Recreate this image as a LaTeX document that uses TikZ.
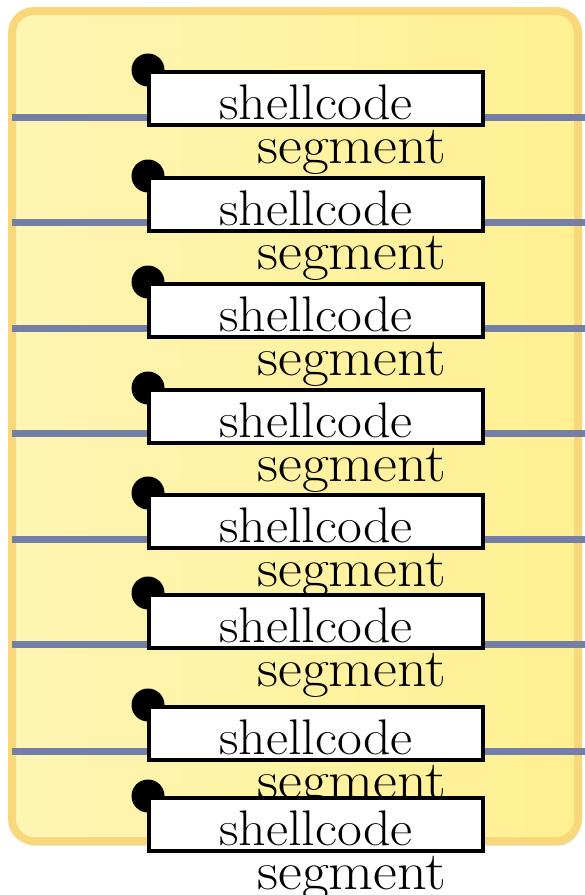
\documentclass[tikz,border=0pt]{standalone}
\usepackage{fontspec}
\setmainfont{Latin Modern Roman}[FakeStretch=1.08]
\usepackage{xcolor}
\definecolor{PadLight}{HTML}{FFF5B4}
\definecolor{PadDark}{HTML}{FFF092}
\definecolor{PadEdge}{HTML}{F9D77B}
\definecolor{WireBlue}{HTML}{737FA7}
\usepackage{tikz}
\usetikzlibrary{shadows}

\begin{document}
\begin{tikzpicture}[
        x=1pt, y=-1pt,
        pad/.style={draw=PadEdge, line width=8pt, rounded corners=22pt, left color=PadLight, right color=PadDark, drop shadow={shadow xshift=2pt, shadow yshift=-5pt, opacity=0.2}},
        wire/.style={draw=WireBlue, line width=7pt},
        knob/.style={circle, fill=black, minimum size=33pt, inner sep=0pt},
        codebox/.style={rectangle, draw=black, line width=4pt, fill=white, minimum width=334pt, inner sep=0pt, text height=47pt, text depth=6pt, font=\fontsize{50}{52}\selectfont},
        seglabel/.style={inner sep=0pt, font=\fontsize{54}{56}\selectfont}
    ]
        \useasboundingbox (0,0) rectangle (585,895);

        % Memory area
        \path[pad] (12,11) rectangle (578,841);

        % Segment borders
        \foreach \y in {117,222,328,433,539,644,751}
            \draw[wire] (12,\y) -- (585,\y);

        % Shellcode pieces
        \foreach \top [count=\i] in {70,176,282,388,493,593,705,796} {
            \node[knob] (knob\i) at (148,\top) {};
            \node[codebox, anchor=north west] (sc\i) at (147,\top) {shellcode};
            \node[seglabel, anchor=base] (seg\i) at (352,\top+93) {segment};
        }

    \end{tikzpicture}
\end{document}
